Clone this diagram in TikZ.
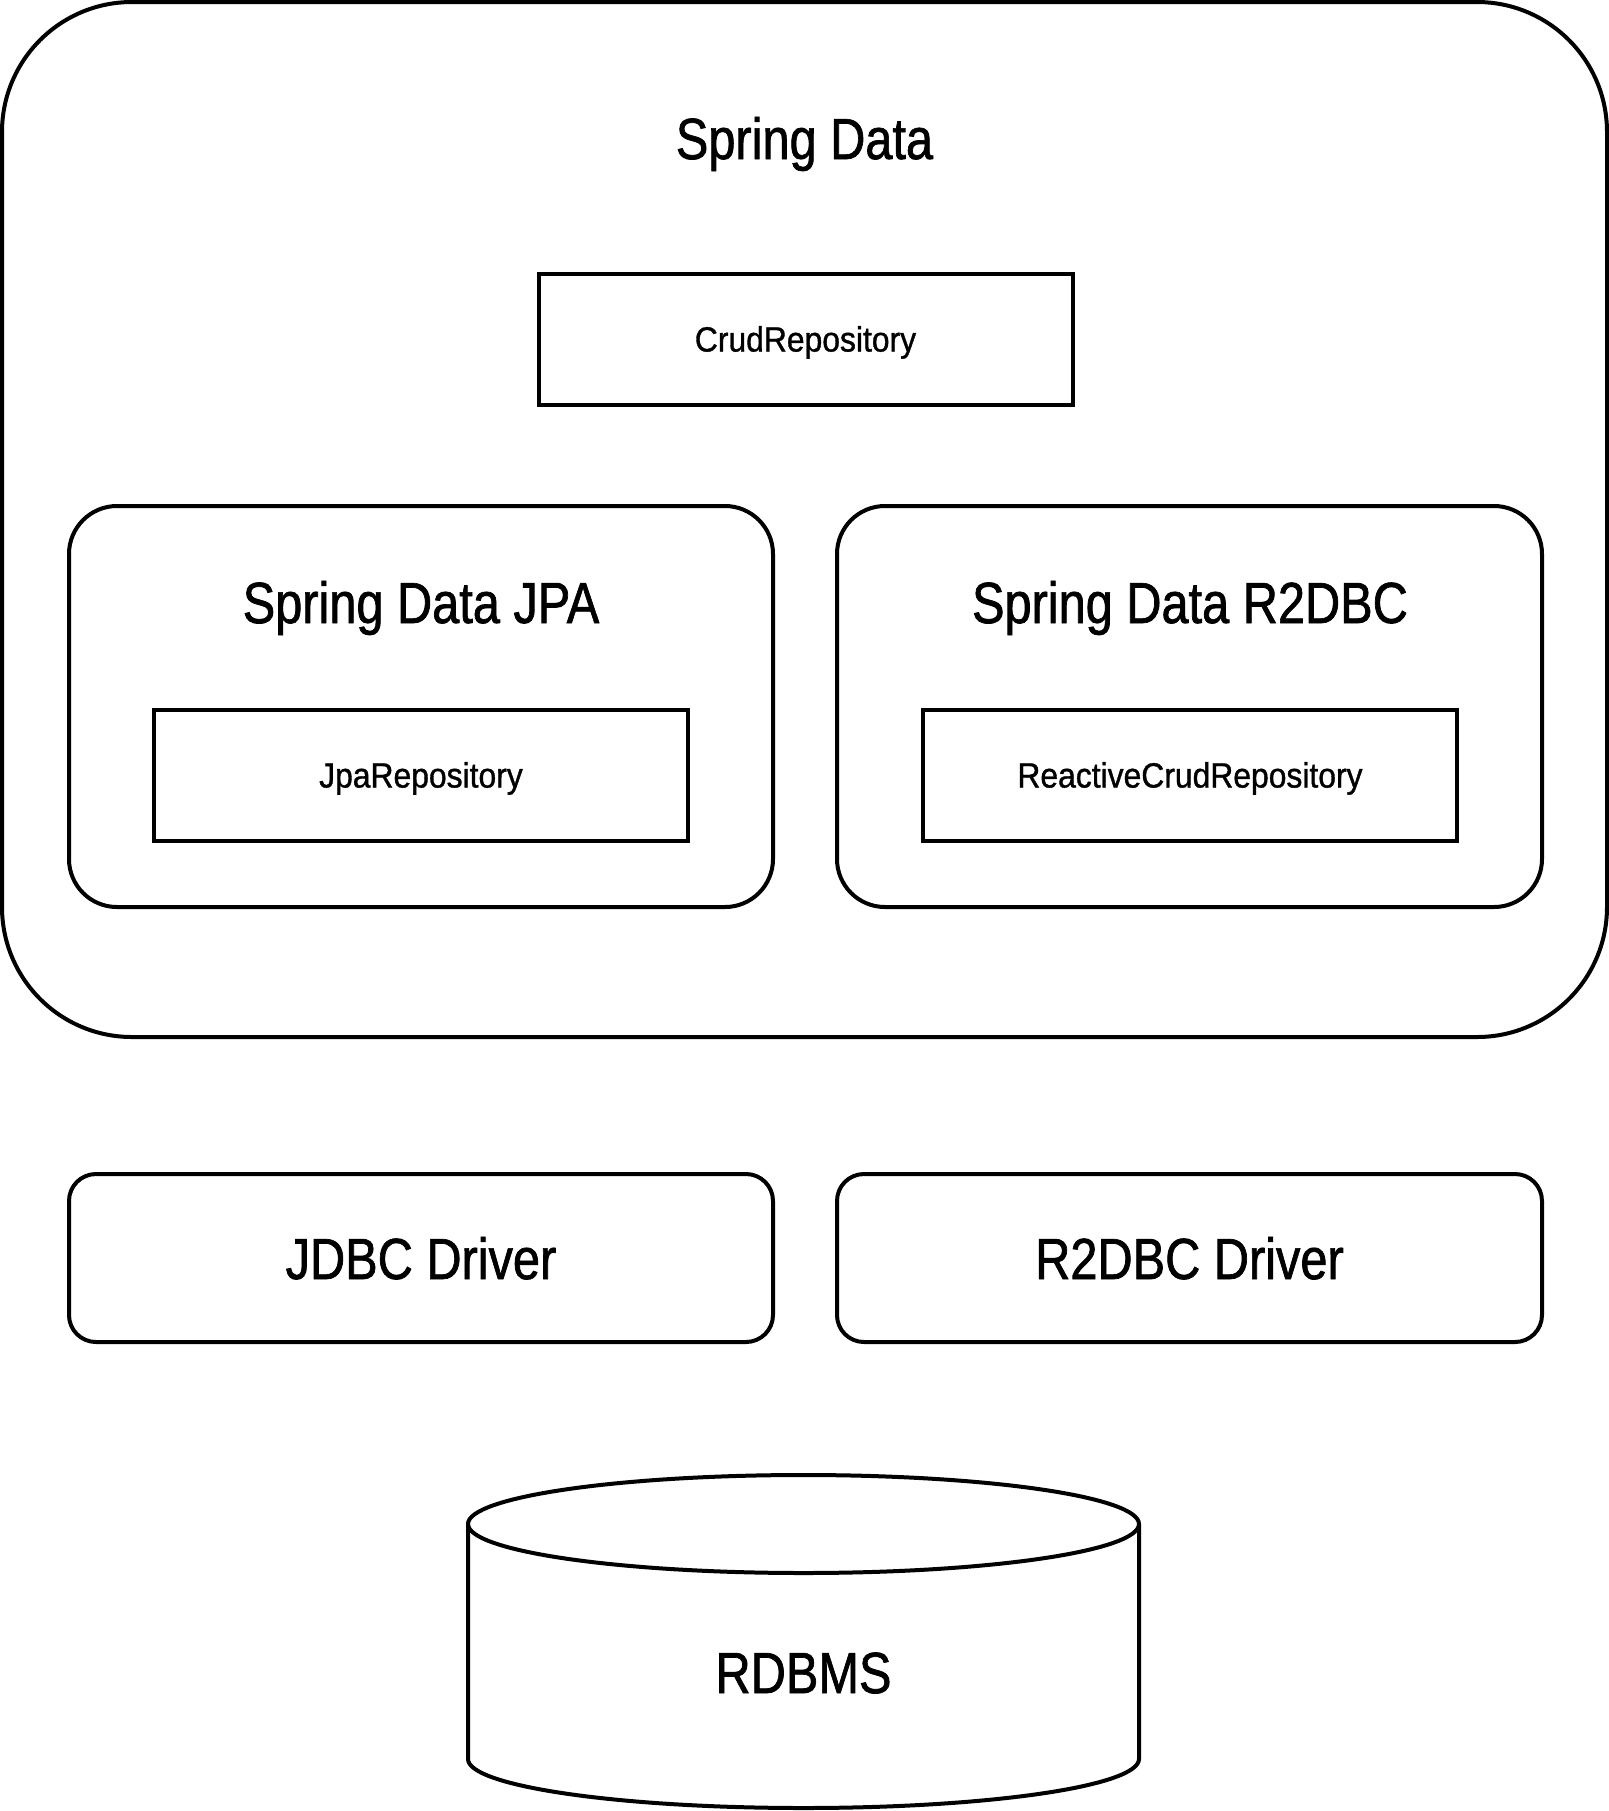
\documentclass[tikz,border=0pt]{standalone}
\usepackage{fontspec}
\setmainfont{Liberation Sans}
\newfontfamily\titlefont[FakeStretch=0.84, FakeBold=1.2]{Liberation Sans}
\newfontfamily\repofont[FakeStretch=0.91, FakeBold=1.0]{Liberation Sans}
\usepackage{tikz}

\begin{document}
\begin{tikzpicture}[x=0.5pt, y=-0.5pt,
    boxline/.style={draw, line width=2pt, inner sep=0pt, outer sep=0pt},
    repobox/.style={boxline, minimum width=267pt, minimum height=65.5pt,
        font=\repofont\fontsize{17.5}{20}\selectfont, text height=12.5pt, text depth=0pt},
    titletext/.style={anchor=base, inner sep=0pt, font=\titlefont\fontsize{29}{34}\selectfont},
    driverbox/.style={boxline, rounded corners=13.5pt, minimum width=352pt, minimum height=84pt,
        font=\titlefont\fontsize{29}{34}\selectfont, text height=21pt, text depth=0pt}]
\useasboundingbox (0,0) rectangle (1609,1811);

% spring data
\node[boxline, rounded corners=65pt, minimum width=802.5pt, minimum height=517.5pt] (springdata) at (804.5,519.5) {};
\node[titletext] (springdatatitle) at (804.5,159) {Spring Data};
\node[repobox] (crudrepo) at (805.5,339) {CrudRepository};

% jpa and r2dbc
\node[boxline, rounded corners=24pt, minimum width=352pt, minimum height=200.5pt] (jpa) at (421,706.5) {};
\node[titletext] (jpatitle) at (421,623) {Spring Data JPA};
\node[repobox] (jparepo) at (421,775) {JpaRepository};

\node[boxline, rounded corners=24pt, minimum width=352.5pt, minimum height=200.5pt] (r2dbc) at (1189.5,706.5) {};
\node[titletext] (r2dbctitle) at (1190,623) {Spring Data R2DBC};
\node[repobox] (reactiverepo) at (1190,775) {ReactiveCrudRepository};

% drivers
\node[driverbox] (jdbcdriver) at (421,1258) {JDBC Driver};
\node[driverbox, minimum width=352.5pt] (r2dbcdriver) at (1189.5,1258) {R2DBC Driver};

% database
\coordinate (dbtop) at (803.5,1524);
\draw[line width=2pt] (dbtop) ellipse [x radius=167.75pt, y radius=24.5pt];
\draw[line width=2pt] (468,1524) -- (468,1759)
    arc[start angle=180, end angle=360, x radius=167.75pt, y radius=24.5pt] -- (1139,1524);
\node[titletext] (rdbms) at (803.5,1693) {RDBMS};
\end{tikzpicture}
\end{document}
